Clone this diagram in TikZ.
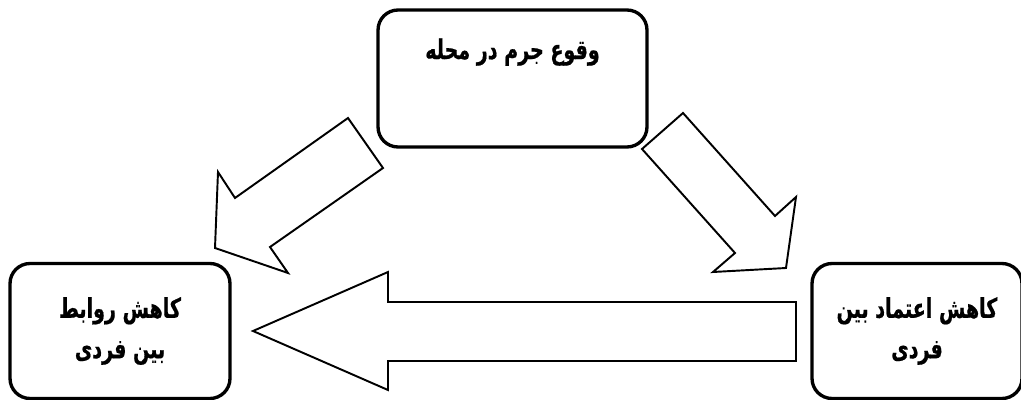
\documentclass[tikz,border=0pt]{standalone}
\usepackage{fontspec}
\newfontfamily\arabicfont[Script=Arabic, FakeStretch=0.7, FakeBold=0.6]{DejaVu Sans}
\TeXXeTstate=1
\usetikzlibrary{positioning}

\begin{document}
\begin{tikzpicture}[
  x=0.02cm, y=-0.02cm,
  box/.style={
    rectangle, rounded corners=0.4cm, draw, line width=1.9pt,
    fill=white, align=center,
    font=\arabicfont\bfseries\fontsize{15.5}{23}\selectfont
  },
  lbl/.style={font=\arabicfont\bfseries\fontsize{15.5}{23}\selectfont, inner sep=1pt},
  blk/.style={draw, line width=1.1pt, fill=white, line join=miter}
]
  \useasboundingbox (0,0) rectangle (1021,399);
  \clip (0,0) rectangle (1021,399);

  \node[box, minimum width=5.38cm, minimum height=2.74cm] (crime) at (512.5,78.5) {};
  \node[lbl, below=0.56cm of crime.north] (crimetxt) {\beginR وقوع جرم در محله\endR};
  \node[box, minimum width=4.4cm, minimum height=2.7cm] (ties) at (120,331)
    {\beginR کاهش روابط\endR\\\beginR بین فردی\endR};
  \node[box, minimum width=4.2cm, minimum height=2.7cm] (trust) at (917,331)
    {\beginR کاهش اعتماد بین\endR\\\beginR فردی\endR};

  % block arrows
  \draw[blk] (348,118) -- (383,168) -- (270,247) -- (288,273) -- (215,248)
    -- (218,172) -- (235,198) -- cycle;
  \draw[blk] (683,113) -- (775,216) -- (796,197) -- (786,268) -- (713,272)
    -- (735,253) -- (642,149) -- cycle;
  \draw[blk] (253,331) -- (388,272) -- (388,302) -- (796,302) -- (796,361)
    -- (388,361) -- (388,390) -- cycle;
\end{tikzpicture}
\end{document}
